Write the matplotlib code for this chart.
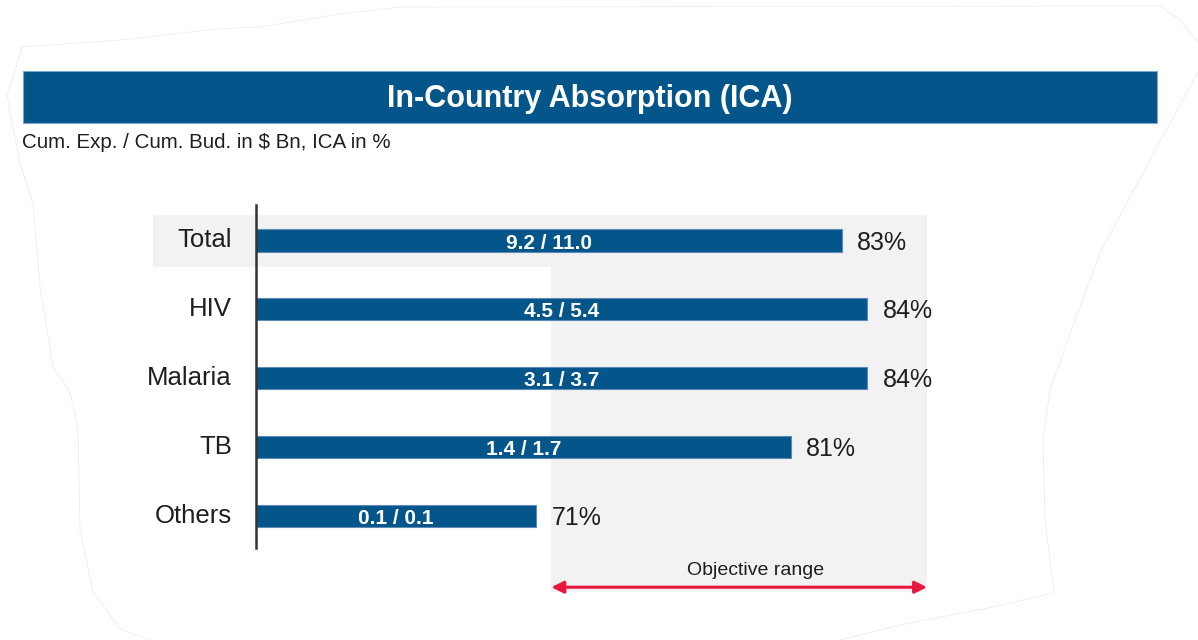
import matplotlib
matplotlib.use("Agg")
import matplotlib.pyplot as plt
from matplotlib.patches import Rectangle

plt.rcParams['font.family'] = ['Liberation Sans', 'DejaVu Sans']

# data
categories = ["Total", "HIV", "Malaria", "TB", "Others"]
ica_pct = [83, 84, 84, 81, 71]
cum_exp = [9.2, 4.5, 3.1, 1.4, 0.1]
cum_bud = [11.0, 5.4, 3.7, 1.7, 0.1]
objective_range = [71.6, 86.35]
x_start = 60

title = "In-Country Absorption (ICA)"
subtitle = "Cum. Exp. / Cum. Bud. in $ Bn, ICA in %"

W, H = 1198, 640
blue = "#03558a"
grey_band = "#f2f2f2"
red = "#e8173f"
txt = "#1e1e1e"

fig = plt.figure(figsize=(W / 100, H / 100), dpi=100)
fig.patch.set_facecolor("white")

# background layer in pixel coordinates
bg = fig.add_axes([0, 0, 1, 1])
bg.set_xlim(0, W)
bg.set_ylim(H, 0)
bg.axis("off")

# faint torn-paper outline
edge_top = [(22, 47), (120, 40), (217, 29), (260, 27), (333, 15), (400, 7),
            (1160, 6), (1180, 20), (1197, 41)]
edge_right = [(1198, 72), (1150, 160), (1100, 253), (1075, 320), (1050, 390),
              (1043, 440), (1045, 520), (1054, 593), (993, 607), (900, 625), (840, 640)]
edge_left = [(22, 47), (7, 96), (20, 163), (33, 204), (40, 286), (53, 367),
             (70, 392), (78, 429), (80, 530), (93, 592), (120, 629), (150, 640)]
for pts in (edge_top, edge_right, edge_left):
    bg.plot([p[0] for p in pts], [p[1] for p in pts], color="#ececec", lw=0.6)

# title banner
bg.add_patch(Rectangle((23, 71), 1134, 52, facecolor=blue, edgecolor="#7fa6c8", lw=0.8))
bg.text(590, 99, title, color="white", fontsize=22, fontweight="bold",
        ha="center", va="center")
bg.text(22, 142, subtitle, color=txt, fontsize=14.8, ha="left", va="center")

# chart area
ax = fig.add_axes([256 / W, 1 - 548 / H, (927 - 256) / W, (548 - 205) / H])
ax.set_facecolor("none")
ax.set_xlim(x_start, objective_range[1])
ax.set_ylim(4.47, -0.516)

# objective range band and highlight of the Total row
ax.add_patch(Rectangle((objective_range[0], -0.371), objective_range[1] - objective_range[0],
                       5.11 + 0.371, facecolor=grey_band, edgecolor="none",
                       clip_on=False, zorder=0))
ax.add_patch(Rectangle((55.95, -0.371), objective_range[1] - 55.95, 0.385 + 0.371,
                       facecolor=grey_band, edgecolor="none", clip_on=False, zorder=0))

y = list(range(len(categories)))
widths = [v - x_start for v in ica_pct]
ax.barh(y, widths, left=x_start, height=0.32, color=blue, edgecolor="#5d8bb5",
        linewidth=0.8, zorder=2)

for i, cat in enumerate(categories):
    ax.text(x_start - 0.95, i, cat, ha="right", va="center", fontsize=18.5, color=txt)
    ax.text(ica_pct[i] + 0.6, i + 0.03, f"{ica_pct[i]}%", ha="left", va="center",
            fontsize=18, color=txt)
    ax.text((x_start + ica_pct[i]) / 2, i + 0.01, f"{cum_exp[i]:.1f} / {cum_bud[i]:.1f}",
            ha="center", va="center_baseline", fontsize=15, fontweight="bold", color="white",
            zorder=3)

# objective range arrow
ax.annotate("", xy=(objective_range[0], 5.04), xytext=(objective_range[1], 5.04),
            xycoords="data", annotation_clip=False,
            arrowprops=dict(arrowstyle="<|-|>", color=red, lw=2.2, mutation_scale=18,
                            shrinkA=0, shrinkB=0))
ax.text(79.6, 4.79, "Objective range", ha="center", va="center", fontsize=14,
        color=txt, clip_on=False)

ax.set_xticks([])
ax.set_yticks([])
for side in ("top", "right", "bottom"):
    ax.spines[side].set_visible(False)
ax.spines["left"].set_color("#333333")
ax.spines["left"].set_linewidth(1.8)

fig.savefig("out.png", dpi=100, facecolor="white")
